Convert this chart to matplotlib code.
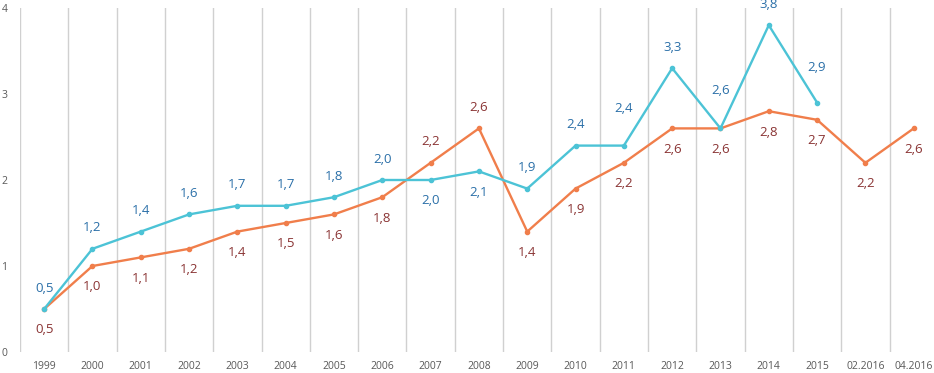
import matplotlib.pyplot as plt

categories = ['1999', '2000', '2001', '2002', '2003', '2004', '2005', '2006', '2007',
              '2008', '2009', '2010', '2011', '2012', '2013', '2014', '2015',
              '02.2016', '04.2016']
cyan_vals = [0.5, 1.2, 1.4, 1.6, 1.7, 1.7, 1.8, 2.0, 2.0, 2.1, 1.9, 2.4, 2.4, 3.3,
             2.6, 3.8, 2.9]
orange_vals = [0.5, 1.0, 1.1, 1.2, 1.4, 1.5, 1.6, 1.8, 2.2, 2.6, 1.4, 1.9, 2.2, 2.6,
               2.6, 2.8, 2.7, 2.2, 2.6]
# label offsets in points: positive above the point, negative below
cyan_off = [15, 15, 15, 15, 15, 15, 15, 15, -15, -15, 15, 15, 27, 15, 27, 15, 25]
orange_off = [-15, -15, -15, -15, -15, -15, -15, -15, 15, 15, -15, -15, -15, -15,
              -15, -15, -15, -15, -15]

cyan_col = '#4cc3d6'
orange_col = '#f07e4b'
cyan_txt = '#2a6fa8'
orange_txt = '#8a3434'

plt.rcParams['font.family'] = ['Open Sans', 'DejaVu Sans']

fig = plt.figure(figsize=(9.34, 3.73), dpi=100)
ax = fig.add_axes([20 / 934, 21 / 373, 914 / 934, 344 / 373])

x_c = list(range(len(cyan_vals)))
x_o = list(range(len(orange_vals)))

for b in range(len(categories)):
    ax.axvline(b - 0.5, color='#d0d0d0', lw=1.0, zorder=0)

ax.plot(x_c, cyan_vals, color=cyan_col, lw=1.7, marker='o', ms=3, zorder=3)
ax.plot(x_o, orange_vals, color=orange_col, lw=1.7, marker='o', ms=3, zorder=2)

for x, v, o in zip(x_c, cyan_vals, cyan_off):
    ax.annotate(f'{v:.1f}'.replace('.', ','), (x, v), xytext=(0, o),
                textcoords='offset points', ha='center', va='center',
                fontsize=9.5, color=cyan_txt)
for x, v, o in zip(x_o, orange_vals, orange_off):
    ax.annotate(f'{v:.1f}'.replace('.', ','), (x, v), xytext=(0, o),
                textcoords='offset points', ha='center', va='center',
                fontsize=9.5, color=orange_txt)

ax.set_xlim(-0.5, 18.42)
ax.set_ylim(0, 4)
ax.set_yticks([0, 1, 2, 3, 4])
ax.set_yticklabels(['0', '1', '2', '3', '4'])
ax.set_xticks(range(len(categories)))
ax.set_xticklabels(categories)
ax.tick_params(axis='both', length=0, colors='#595959', labelsize=7.5)
ax.tick_params(axis='y', pad=9)
ax.tick_params(axis='x', pad=6.5)
for s in ax.spines.values():
    s.set_visible(False)

plt.savefig('out.png', dpi=100)
plt.close()
